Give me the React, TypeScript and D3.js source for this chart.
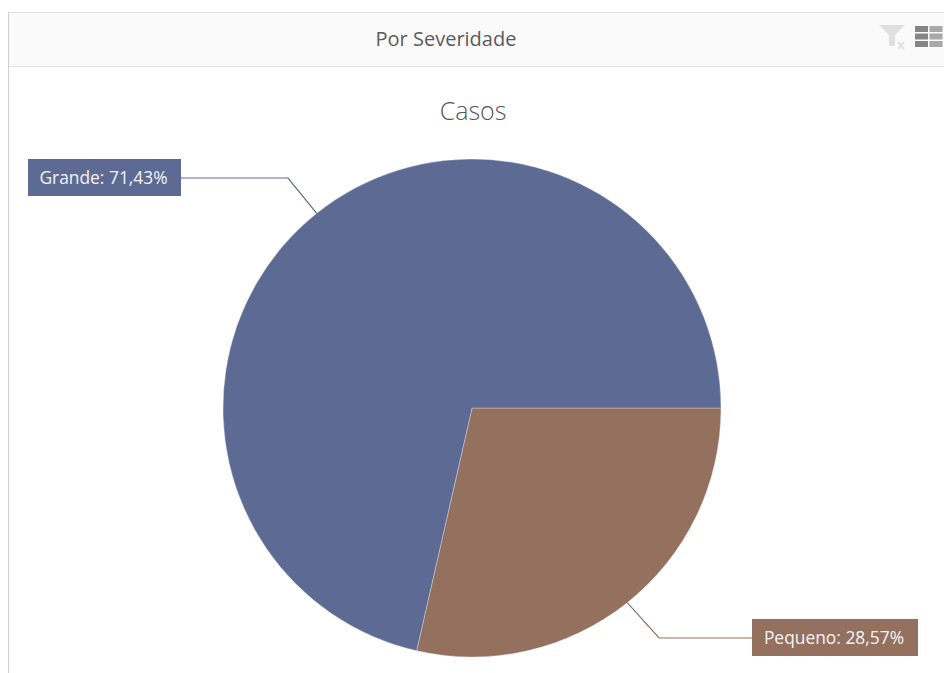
import React from "react";
import * as d3 from "d3";

const categories = ["Pequeno", "Grande"];
const shares = [28.57, 71.43];
const sliceColors = ["#94705E", "#5C6A94"];
const chartTitle = "Casos";
const panelTitle = "Por Severidade";

const WIDTH = 944;
const HEIGHT = 673;
const CX = 472;
const CY = 408;
const RADIUS = 249;
const FONT = "'Open Sans', 'Noto Sans', sans-serif";

// Callout geometry, one entry per category.
const callouts = [
  { elbow: [659, 638], box: [752, 619, 166, 37], anchorX: 752 },
  { elbow: [288, 178], box: [28, 159, 153, 37], anchorX: 181 },
];

export default function App() {
  const pie = d3
    .pie<number>()
    .sort(null)
    .value((d) => d)
    .startAngle(Math.PI / 2)
    .endAngle(Math.PI / 2 + 2 * Math.PI);
  const arcs = pie(shares);
  const arc = d3.arc<d3.PieArcDatum<number>>().innerRadius(0).outerRadius(RADIUS);
  const rim = d3.arc<d3.PieArcDatum<number>>().innerRadius(RADIUS).outerRadius(RADIUS);
  const line = d3.line();

  const format = (v: number) => v.toFixed(2).replace(".", ",") + "%";

  return (
    <svg
      width={WIDTH}
      height={HEIGHT}
      style={{ position: "absolute", left: 0, top: 0, background: "#fff" }}
    >
      {/* panel frame and header */}
      <rect x={8.5} y={12.5} width={WIDTH} height={54} fill="#FAFAFA" stroke="#E2E2E2" />
      <line x1={8.5} x2={8.5} y1={12} y2={HEIGHT} stroke="#CFCFCF" />
      <text
        x={446}
        y={46}
        textAnchor="middle"
        fontFamily={FONT}
        fontSize={20}
        fill="#5A5A5A"
      >
        {panelTitle}
      </text>

      {/* header icons */}
      <path d="M879 25 H905 L895 35 V46 H889 V35 Z" fill="#E0E0E0" />
      <path d="M898 42 L904 49 M904 42 L898 49" stroke="#E2E2E2" strokeWidth={2} />
      {[0, 1, 2].map((row) =>
        [0, 1].map((col) => (
          <rect
            key={`${row}-${col}`}
            x={915 + col * 14.5}
            y={26 + row * 7.5}
            width={13}
            height={6}
            fill={col === 0 ? "#858585" : "#A8A8A8"}
          />
        ))
      )}

      <text
        x={473}
        y={120}
        textAnchor="middle"
        fontFamily={FONT}
        fontWeight={300}
        fontSize={25}
        fill="#555"
      >
        {chartTitle}
      </text>

      {/* slices */}
      <g transform={`translate(${CX},${CY})`}>
        {arcs.map((d, i) => (
          <path key={categories[i]} d={arc(d) ?? ""} fill={sliceColors[i]} stroke="#fff" strokeOpacity={0.6} strokeWidth={0.5} />
        ))}
      </g>

      {/* callouts */}
      {arcs.map((d, i) => {
        const [rx, ry] = rim.centroid(d);
        const c = callouts[i];
        const [bx, by, bw, bh] = c.box;
        return (
          <g key={categories[i]}>
            <path
              d={
                line([
                  [CX + rx, CY + ry],
                  c.elbow as [number, number],
                  [c.anchorX, c.elbow[1]],
                ]) ?? ""
              }
              fill="none"
              stroke={sliceColors[i]}
              strokeWidth={1.2}
            />
            <rect x={bx} y={by} width={bw} height={bh} fill={sliceColors[i]} />
            <text
              x={bx + bw / 2 - 1}
              y={by + bh / 2 + 6}
              textAnchor="middle"
              fontFamily={FONT}
              fontSize={17.4}
              fill="#F4F4F4"
            >
              {`${categories[i]}: ${format(shares[i])}`}
            </text>
          </g>
        );
      })}
    </svg>
  );
}
